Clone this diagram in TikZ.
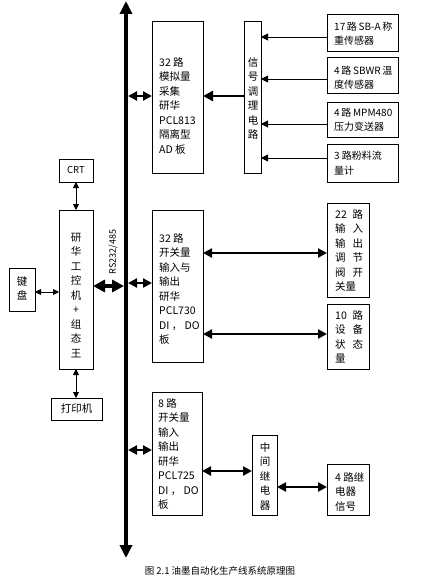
\documentclass[tikz,border=0pt]{standalone}
\usepackage{fontspec}
\setmainfont{Noto Sans CJK SC}
\usetikzlibrary{arrows.meta}
\begin{document}
\begin{tikzpicture}[x=1pt,y=-1pt,
  box/.style={draw, line width=0.8pt, inner sep=0pt, outer sep=0pt, anchor=north west},
  txt/.style={inner sep=0pt, align=left, anchor=north west, font=\fontsize{10.5}{14.5}\selectfont},
  stxt/.style={inner sep=0pt, align=left, anchor=north west, font=\fontsize{10}{14}\selectfont},
  ctxt/.style={inner sep=0pt, align=center, anchor=north, font=\fontsize{10.5}{14.5}\selectfont},
  thinar/.style={line width=0.9pt, >={Triangle[length=7pt,width=7pt]}, ->},
  thindbl/.style={line width=0.9pt, >={Triangle[length=6pt,width=6pt]}, <->},
  midar/.style={line width=2.4pt, >={Triangle[length=10pt,width=10pt]}, ->},
  middbl/.style={line width=2.2pt, >={Triangle[length=9pt,width=9pt]}, <->},
  bigdbl/.style={line width=4pt, >={Triangle[length=12pt,width=12pt]}, <->}
]
\useasboundingbox (0,0) rectangle (420,580);

% bus
\coordinate (bt) at (126,1);
\coordinate (bb) at (126,558);
\draw[line width=4pt, >={Triangle[length=13pt,width=12pt]}, <->] (bb) -- (bt);

% analog board
\node[box, minimum width=51pt, minimum height=152pt] (A) at (152,21) {};
\node[txt] (At) at (159,56) {\strut 32 路\\\strut 模拟量\\\strut 采集\\\strut 研华\\\strut PCL813\\\strut 隔离型\\\strut AD 板};

% signal conditioning
\node[box, minimum width=17pt, minimum height=152pt] (Sig) at (244,21) {};
\node[ctxt] (Sigt) at (253,56) {\strut 信\\\strut 号\\\strut 调\\\strut 理\\\strut 电\\\strut 路};

% sensors
\node[box, minimum width=71pt, minimum height=37pt] (S1) at (327,14) {};
\node[stxt] (S1t) at (334,21) {\strut 17\,路\,SB-A\,称\\\strut 重传感器};
\node[box, minimum width=71pt, minimum height=36pt] (S2) at (327,57) {};
\node[stxt] (S2t) at (334,65) {\strut 4\,路\,SBWR\,温\\\strut 度传感器};
\node[box, minimum width=71pt, minimum height=35pt] (S3) at (327,102) {};
\node[stxt] (S3t) at (334,107) {\strut 4\,路\,MPM480\\\strut 压力变送器};
\node[box, minimum width=71pt, minimum height=38pt] (S4) at (327,144) {};
\node[stxt] (S4t) at (334,150) {\strut 3 路粉料流\\\strut 量计};

\coordinate (s1) at (327,37);
\coordinate (s2) at (327,79);
\coordinate (s3) at (327,124);
\coordinate (s4) at (327,158);
\draw[thinar] (s1) -- (s1 -| Sig.east);
\draw[thinar] (s2) -- (s2 -| Sig.east);
\draw[thinar] (s3) -- (s3 -| Sig.east);
\draw[thinar] (s4) -- (s4 -| Sig.east);

\coordinate (jS) at (244,96);
\draw[midar] (jS) -- (jS -| A.east);
\coordinate (jA) at (128,96);
\draw[middbl] (jA) -- (jA -| A.west);

% left side
\node[box, minimum width=34pt, minimum height=23pt, font=\fontsize{9.5}{12}\selectfont] (CRT) at (59,159) {CRT};
\node[box, minimum width=34pt, minimum height=159pt] (PC) at (59,210) {};
\node[ctxt] (PCt) at (76,231) {\strut 研\\\strut 华\\\strut 工\\\strut 控\\\strut 机\\\strut +\\\strut 组\\\strut 态\\\strut 王};
\node[box, minimum width=26pt, minimum height=43pt] (KB) at (9,268) {};
\node[ctxt] (KBt) at (22,275) {\strut 键\\\strut 盘};
\node[box, minimum width=51pt, minimum height=22pt, font=\fontsize{10.5}{12}\selectfont] (PR) at (51,398) {打印机};

\draw[thindbl] (CRT.south) -- (CRT.south |- PC.north);
\draw[thindbl] (PC.south) -- (PC.south |- PR.north);
\coordinate (jK) at (35,292);
\draw[thindbl] (jK) -- (jK -| PC.west);
\coordinate (jP) at (124,286);
\draw[bigdbl] (jP -| PC.east) -- (jP);
\node[rotate=90, inner sep=0pt, font=\fontsize{9}{10}\selectfont] (rs) at (113,252) {RS232/485};

% DI/DO board PCL730
\node[box, minimum width=51pt, minimum height=152pt] (B) at (152,210) {};
\node[txt] (Bt) at (159,232) {\strut 32 路\\\strut 开关量\\\strut 输入与\\\strut 输出\\\strut 研华\\\strut PCL730\\\strut DI ， DO\\\strut 板};
\coordinate (jB) at (128,283);
\draw[middbl] (jB) -- (jB -| B.west);

\node[box, minimum width=42pt, minimum height=94pt] (C) at (327,203) {};
\node[txt, text width=28pt] (Ct) at (335,208) {\strut 22\hfill 路\\\strut 输\hfill 入\\\strut 输\hfill 出\\\strut 调\hfill 节\\\strut 阀\hfill 开\\\strut 关量};
\node[box, minimum width=42pt, minimum height=65pt] (D) at (327,304) {};
\node[txt, text width=28pt] (Dt) at (335,309) {\strut 10\hfill 路\\\strut 设\hfill 备\\\strut 状\hfill 态\\\strut 量};
\coordinate (jC) at (203,253);
\draw[middbl] (jC) -- (jC -| C.west);
\coordinate (jD) at (203,334);
\draw[middbl] (jD) -- (jD -| D.west);

% PCL725
\node[box, minimum width=50pt, minimum height=123pt] (E) at (152,392) {};
\node[txt] (Et) at (158,397) {\strut 8 路\\\strut 开关量\\\strut 输入\\\strut 输出\\\strut 研华\\\strut PCL725\\\strut DI ， DO\\\strut 板};
\coordinate (jE) at (128,450);
\draw[middbl] (jE) -- (jE -| E.west);

\node[box, minimum width=25pt, minimum height=80pt] (F) at (252,435) {};
\node[ctxt] (Ft) at (265,441) {\strut 中\\\strut 间\\\strut 继\\\strut 电\\\strut 器};
\node[box, minimum width=42pt, minimum height=51pt] (G) at (327,464) {};
\node[txt] (Gt) at (335,471) {\strut 4 路继\\\strut 电器\\\strut 信号};
\coordinate (jF) at (202,471);
\draw[middbl] (jF) -- (jF -| F.west);
\coordinate (jG) at (277,487);
\draw[middbl] (jG) -- (jG -| G.west);

% caption
\node[inner sep=0pt, font=\fontsize{9.5}{11}\selectfont] (cap) at (220,571) {图 2.1 油墨自动化生产线系统原理图};
\end{tikzpicture}
\end{document}
